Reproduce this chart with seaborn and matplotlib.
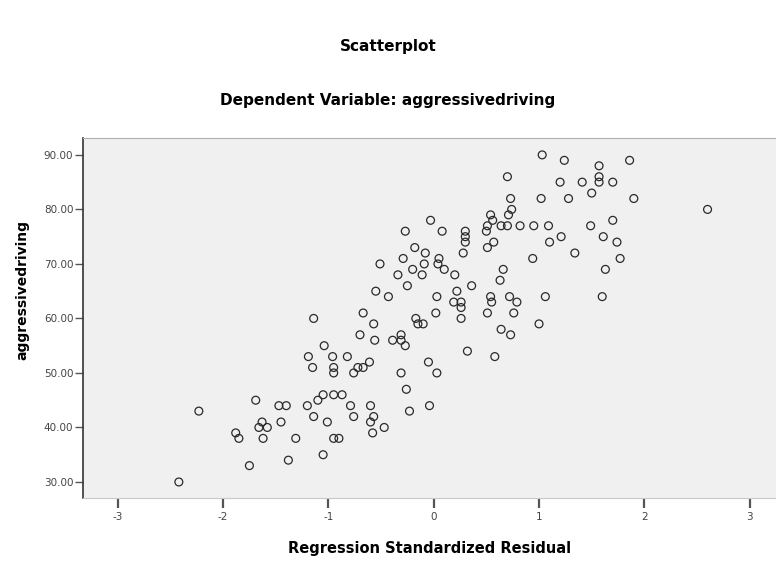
import pandas as pd
import seaborn as sns
import matplotlib
matplotlib.use('Agg')
import matplotlib.pyplot as plt

# Значения
residual = [1.03, 1.24, 0.70, 1.20, 0.73, 1.02, 1.28, 0.74, 0.54, 0.71,
            -0.03, 0.56, -0.27, 0.08, 0.30, 0.51, 0.64, 0.70, 0.82, 0.95,
            1.09, 0.30, 0.30, 0.50, 0.57, 0.51, 1.10, 1.21, -0.18, -0.08,
            0.05, 0.28, -0.29, -0.51, -0.09, 0.04, -0.20, 0.10, -0.34, -0.11,
            0.20, 0.94, 0.66, 0.63, -0.25, 0.36, -0.55, -0.43, 0.03, 0.22,
            0.19, 0.26, 0.54, 0.55, 0.72, 0.79, 1.06, -0.67, 0.02, -0.17,
            0.26, 0.51, 0.76, -0.57, -0.15, -0.10, 0.26, 1.00, 0.64, 0.73,
            -0.70, -0.56, -0.39, -0.31, -0.31, -0.27, -1.04, 0.32, 0.58, -0.96,
            -0.82, -0.61, -0.05, -0.72, -0.67, -0.76, -0.95, -0.95, -0.31, 0.03,
            -0.26, -1.05, -0.95, -0.87, -0.79, -0.60, -0.04, -0.76, -0.57, -0.23,
            -1.01, -0.60, -0.47, -0.58, -0.95, -0.90, -1.05, -1.14, -1.19, -1.15,
            -1.10, -1.20, -1.14, -1.69, -1.47, -1.40, -2.23, -1.63, -1.66, -1.58,
            -1.45, -1.88, -1.85, -1.62, -1.31, -1.38, -1.75, -2.42, 1.57, 1.86,
            1.41, 1.57, 1.57, 1.70, 1.50, 1.90, 2.60, 1.70, 1.49, 1.61,
            1.74, 1.34, 1.77, 1.63, 1.60]
driving = [90, 89, 86, 85, 82, 82, 82, 80, 79, 79,
           78, 78, 76, 76, 76, 77, 77, 77, 77, 77,
           77, 75, 74, 76, 74, 73, 74, 75, 73, 72,
           71, 72, 71, 70, 70, 70, 69, 69, 68, 68,
           68, 71, 69, 67, 66, 66, 65, 64, 64, 65,
           63, 63, 64, 63, 64, 63, 64, 61, 61, 60,
           62, 61, 61, 59, 59, 59, 60, 59, 58, 57,
           57, 56, 56, 57, 56, 55, 55, 54, 53, 53,
           53, 52, 52, 51, 51, 50, 51, 50, 50, 50,
           47, 46, 46, 46, 44, 44, 44, 42, 42, 43,
           41, 41, 40, 39, 38, 38, 35, 60, 53, 51,
           45, 44, 42, 45, 44, 44, 43, 41, 40, 40,
           41, 39, 38, 38, 38, 34, 33, 30, 88, 89,
           85, 86, 85, 85, 83, 82, 80, 78, 77, 75,
           74, 72, 71, 69, 64]

x_ticks = [-3, -2, -1, 0, 1, 2, 3]
y_ticks = [30, 40, 50, 60, 70, 80, 90]

df = pd.DataFrame({'residual': residual, 'aggressivedriving': driving})

plt.rcParams['font.family'] = ['DejaVu Sans']

fig = plt.figure(figsize=(7.76, 5.61), dpi=100)
ax = fig.add_axes([83 / 776, 63 / 561, 693 / 776, 360 / 561])
ax.set_facecolor('#f0f0f0')

sns.scatterplot(data=df, x='residual', y='aggressivedriving', ax=ax,
                marker='o', s=32, facecolors='none', edgecolor='#2a2a2a',
                linewidth=0.9)

ax.set_xlim(-3.33, 3.25)
ax.set_ylim(27.06, 93.1)
ax.set_xticks(x_ticks)
ax.set_xticklabels([str(t) for t in x_ticks], fontsize=7.5, color='#444444')
ax.set_yticks(y_ticks)
ax.set_yticklabels([f"{t:.2f}" for t in y_ticks], fontsize=7.5, color='#444444')
ax.tick_params(axis='x', length=7, width=1.6, color='#555555', pad=3)
ax.tick_params(axis='y', length=6, width=1, color='#555555', pad=1)

ax.spines['left'].set_color('#333333')
ax.spines['left'].set_linewidth(1.2)
ax.spines['bottom'].set_color('#c8c8c8')
ax.spines['top'].set_color('#b0b0b0')
ax.spines['right'].set_visible(False)

ax.set_xlabel("Regression Standardized Residual", fontsize=10.5, fontweight='bold')
ax.xaxis.set_label_coords(0.5, (498 - 548) / 360)
ax.xaxis.label.set_va('center')
ax.set_ylabel("aggressivedriving", fontsize=10, fontweight='bold')
ax.yaxis.set_label_coords((22 - 83) / 693, (498 - 290) / 360)
ax.yaxis.label.set_va('center')

fig.text(0.5, 1 - 46 / 561, "Scatterplot", ha='center', va='center', fontsize=11, fontweight='bold')
fig.text(0.5, 1 - 101 / 561, "Dependent Variable: aggressivedriving", ha='center', va='center',
         fontsize=11, fontweight='bold')

plt.savefig("out.png", dpi=100)
plt.close()
